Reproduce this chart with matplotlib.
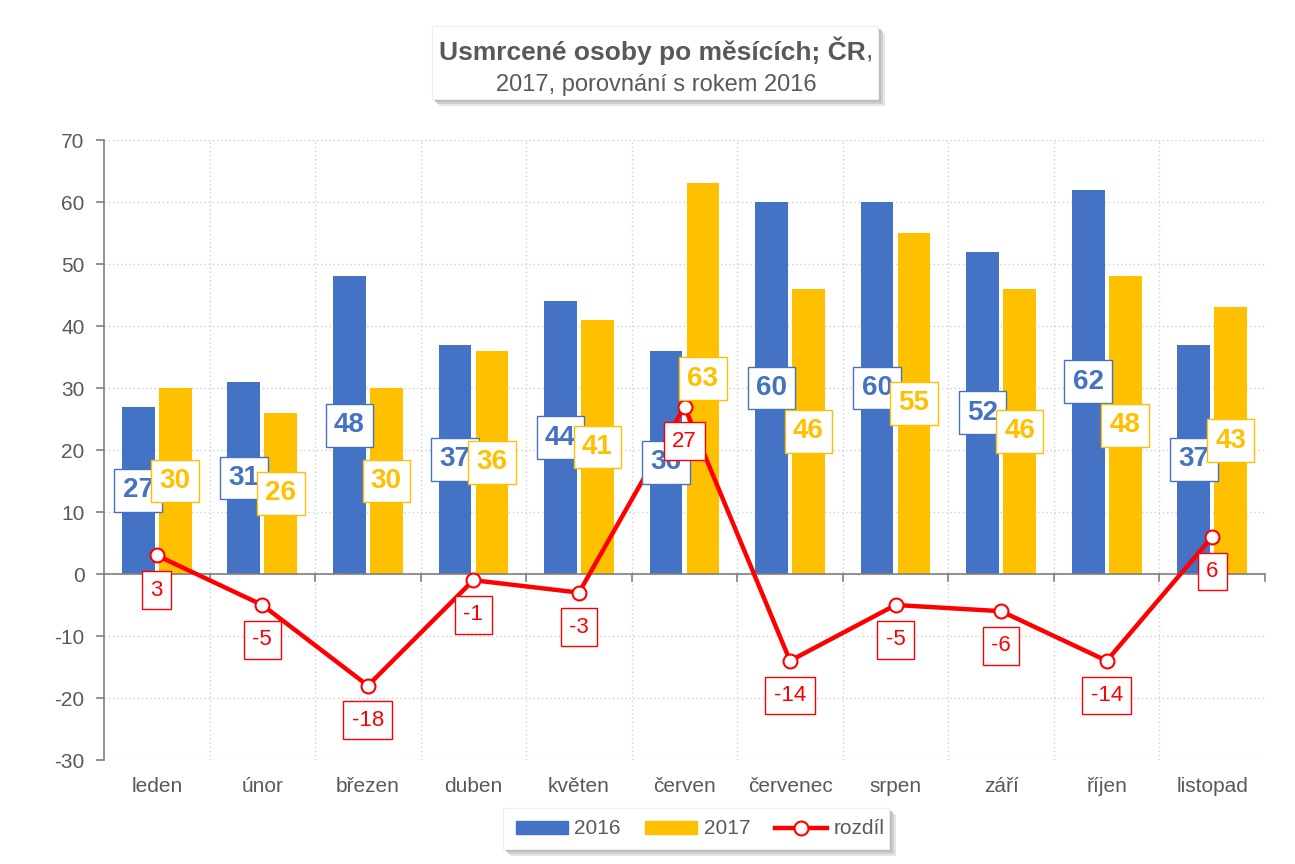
import matplotlib
matplotlib.use("Agg")
import matplotlib.pyplot as plt
import numpy as np
from matplotlib.patches import Rectangle, Patch
from matplotlib.lines import Line2D
from matplotlib import font_manager

names = {f.name for f in font_manager.fontManager.ttflist}
FAM = ['Liberation Sans Narrow', 'DejaVu Sans'] if 'Liberation Sans Narrow' in names else ['Liberation Sans', 'DejaVu Sans']
plt.rcParams['font.family'] = FAM

months = ["leden", "únor", "březen", "duben", "květen", "červen", "červenec", "srpen", "září", "říjen", "listopad"]
v2016 = [27, 31, 48, 37, 44, 36, 60, 60, 52, 62, 37]
v2017 = [30, 26, 30, 36, 41, 63, 46, 55, 46, 48, 43]
rozdil = [3, -5, -18, -1, -3, 27, -14, -5, -6, -14, 6]
yticks = [-30, -20, -10, 0, 10, 20, 30, 40, 50, 60, 70]

BLUE = "#4472C4"
YEL = "#FFC000"
RED = "#FF0000"
GRAY = "#595959"

W, H = 1295, 864
fig = plt.figure(figsize=(W/100, H/100), dpi=100)
ax = fig.add_axes([104/W, 1-760/H, (1265-104)/W, (760-140)/H])

x = np.arange(len(months))
w = 0.31
off = 0.175
ax.bar(x - off, v2016, w, color=BLUE, zorder=2)
ax.bar(x + off, v2017, w, color=YEL, zorder=2)
ax.plot(x, rozdil, color=RED, lw=3.2, marker='o', ms=10, mfc='white', mec=RED, mew=1.5, zorder=4)

for i in range(len(months)):
    ax.text(x[i] - off, v2016[i] / 2, str(v2016[i]), ha='center', va='center', fontsize=20,
            fontweight='bold', color=BLUE, zorder=5,
            bbox=dict(boxstyle='square,pad=0.3', fc='white', ec=BLUE, lw=1))
    ax.text(x[i] + off, v2017[i] / 2, str(v2017[i]), ha='center', va='center', fontsize=20,
            fontweight='bold', color=YEL, zorder=5,
            bbox=dict(boxstyle='square,pad=0.3', fc='white', ec=YEL, lw=1))
    ax.annotate(str(rozdil[i]), (x[i], rozdil[i]), xytext=(0, -25), textcoords='offset points',
                ha='center', va='center', fontsize=16, color=RED, zorder=6,
                bbox=dict(boxstyle='square,pad=0.38', fc='white', ec=RED, lw=1))

ax.set_xlim(-0.5, len(months) - 0.5)
ax.set_ylim(-30, 70)
ax.set_yticks(yticks)
ax.set_yticklabels([str(t) for t in yticks], fontsize=15, color=GRAY)
ax.set_xticks(x)
ax.set_xticklabels(months, fontsize=15, color=GRAY)
ax.tick_params(axis='x', length=0, pad=12)
ax.tick_params(axis='y', length=6, color='#808080', width=1.2, pad=8)

for s in ['top', 'right', 'bottom']:
    ax.spines[s].set_visible(False)
ax.spines['left'].set_color('#808080')
ax.spines['left'].set_linewidth(1.2)

ax.axhline(0, color='#808080', lw=1.2, zorder=3)
for b in np.arange(0.5, len(months) - 0.5, 1):
    ax.axvline(b, color='#D0D0D0', lw=1, ls=(0, (1, 2)), zorder=0)
    ax.plot([b, b], [0, -1.1], color='#808080', lw=1.2, zorder=3, clip_on=False)
ax.plot([len(months) - 0.5] * 2, [0, -1.1], color='#808080', lw=1.2, zorder=3, clip_on=False)
for t in yticks:
    ax.axhline(t, color='#D0D0D0', lw=1, ls=(0, (1, 2)), zorder=0)


def shadow_box(x0, y0, x1, y1):
    for k, c in [(7, '#E6E6E6'), (5, '#CFCFCF'), (3, '#BDBDBD')]:
        fig.patches.append(Rectangle((x0/W + k/W, 1 - y1/H - k/H), (x1-x0)/W, (y1-y0)/H,
                                     transform=fig.transFigure, fc=c, ec='none', zorder=0))
    fig.patches.append(Rectangle((x0/W, 1 - y1/H), (x1-x0)/W, (y1-y0)/H,
                                 transform=fig.transFigure, fc='white', ec='#EEEEEE', lw=0.8, zorder=1))


# title box with shadow
shadow_box(432, 26, 878, 99)
fig.text(866/W, 1 - 51/H, "Usmrcené osoby po měsících; ČR", ha='right', va='center', fontsize=19,
         fontweight='bold', color=GRAY, zorder=3)
fig.text(866/W, 1 - 51/H, ",", ha='left', va='center', fontsize=19, color=GRAY, zorder=3)
fig.text(656/W, 1 - 85/H, "2017, porovnání s rokem 2016", ha='center', va='center', fontsize=17,
         color=GRAY, zorder=3)

# legend
shadow_box(503, 808, 889, 849)
handles = [Patch(color=BLUE, label='2016'), Patch(color=YEL, label='2017'),
           Line2D([0], [0], color=RED, lw=3.2, marker='o', ms=10, mfc='white', mec=RED, mew=1.5, label='rozdíl')]
leg = fig.legend(handles=handles, loc='center', bbox_to_anchor=(700/W, 1 - 829/H), ncol=3,
                 frameon=False, fontsize=15, handlelength=2.5, handleheight=0.6, columnspacing=1.2,
                 handletextpad=0.3)
for t in leg.get_texts():
    t.set_color(GRAY)

fig.savefig("out.png", dpi=100)
